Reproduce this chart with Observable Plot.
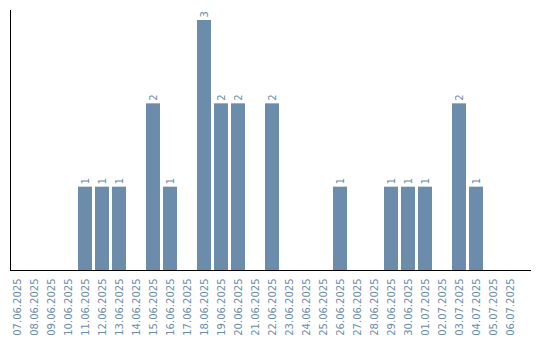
<!DOCTYPE html>
<html>
<head>
<meta charset="utf-8">
<script src="https://cdn.jsdelivr.net/npm/d3@7"></script>
<script src="https://cdn.jsdelivr.net/npm/@observablehq/plot@0.6"></script>
<style>
  body { margin: 0; background: #fff; }
</style>
</head>
<body>
<div id="chart"></div>
<script>
const dates = [
  "07.06.2025","08.06.2025","09.06.2025","10.06.2025","11.06.2025","12.06.2025",
  "13.06.2025","14.06.2025","15.06.2025","16.06.2025","17.06.2025","18.06.2025",
  "19.06.2025","20.06.2025","21.06.2025","22.06.2025","23.06.2025","24.06.2025",
  "25.06.2025","26.06.2025","27.06.2025","28.06.2025","29.06.2025","30.06.2025",
  "01.07.2025","02.07.2025","03.07.2025","04.07.2025","05.07.2025","06.07.2025"
];
const counts = [0,0,0,0,1,1,1,0,2,1,0,3,2,2,0,2,0,0,0,1,0,0,1,1,1,0,2,1,0,0];

const data = dates.map((d, i) => ({date: d, count: counts[i]}));
const nonZero = data.filter(d => d.count > 0);
const color = "#6b8cab";

const chart = Plot.plot({
  width: 540,
  height: 340,
  marginTop: 10,
  marginBottom: 70,
  marginLeft: 10,
  marginRight: 10,
  style: {fontFamily: "DejaVu Sans, sans-serif", fontSize: "10px", background: "#fff"},
  x: {domain: dates, range: [10, 517], paddingInner: 3 / 17, paddingOuter: 0, align: 0},
  y: {domain: [0, 3.12], axis: null},
  marks: [
    Plot.barY(nonZero, {x: "date", y: "count", fill: color}),
    Plot.text(nonZero, {x: "date", y: "count", text: d => String(d.count), rotate: -90,
      textAnchor: "start", lineAnchor: "middle", dy: -3, fill: color, fontSize: 10}),
    Plot.axisX({tickRotate: -90, tickSize: 0, tickPadding: 8, fill: color, fontSize: 10, label: null}),
    Plot.frame({anchor: "left", stroke: "#000"}),
    Plot.frame({anchor: "bottom", stroke: "#000"})
  ]
});
document.getElementById("chart").appendChild(chart);
</script>
</body>
</html>
